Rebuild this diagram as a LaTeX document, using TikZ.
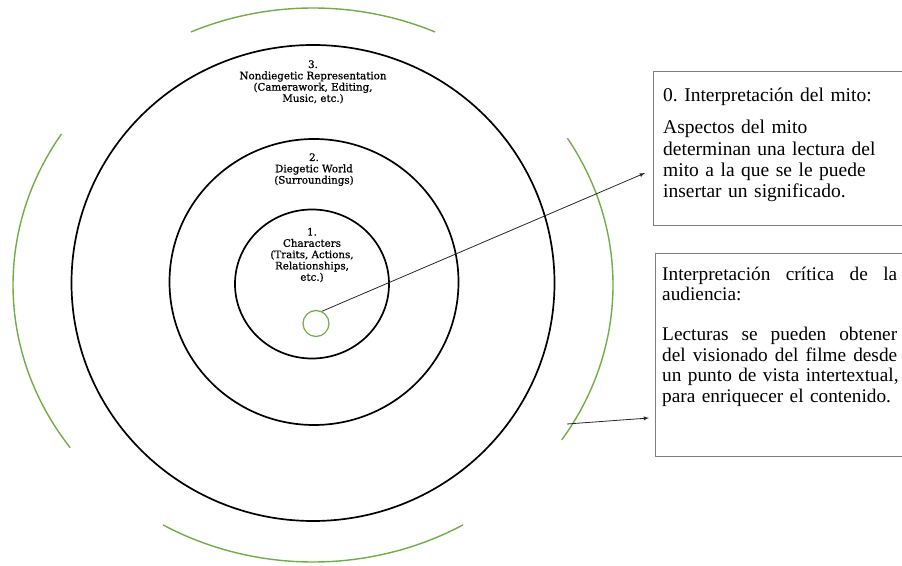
\documentclass[tikz,border=0pt]{standalone}
\usepackage{fontspec}
\setmainfont{Liberation Serif}
\newfontfamily\boxfont{Liberation Serif}
\newfontfamily\ringfont[FakeBold=0.8]{DejaVu Serif}
\usepackage{tikz}
\usetikzlibrary{positioning, shapes.geometric}
\definecolor{arcgreen}{HTML}{70AD47}
\definecolor{panelgray}{HTML}{7F7F7F}
\newcommand{\fullline}[1]{\leavevmode\hbox to 235pt{#1}}
\frenchspacing

\begin{document}
\begin{tikzpicture}[x=1pt, y=1pt,
  ring/.style={draw, ellipse, inner sep=0pt, line width=1.7pt},
  ringlabel/.style={font=\ringfont\fontsize{10.3}{11.3}\selectfont, align=center, inner sep=0pt},
  greenarc/.style={draw=arcgreen, line width=1.4pt},
  panel/.style={draw=panelgray, line width=1.3pt, inner sep=0pt},
  paneltext/.style={font=\boxfont\fontsize{19.5}{21.3}\selectfont, text width=236pt, inner sep=0pt},
  pointer/.style={-latex, line width=0.8pt, black!85}]
  \clip (0,0) rectangle (902,565);

  % the three story levels
  \node[ring, minimum width=483, minimum height=476] (ring3) at (313,282) {};
  \node[ring, minimum width=289, minimum height=286] (ring2) at (314,283) {};
  \node[ring, minimum width=154, minimum height=149] (ring1) at (312,281) {};

  \node[ringlabel, below=16pt of ring3.north] (lab3)
    {3.\\ Nondiegetic Representation\\ (Camerawork, Editing,\\ Music, etc.)};
  \node[ringlabel, below=15pt of ring2.north] (lab2)
    {2.\\ Diegetic World\\ (Surroundings)};
  \node[ringlabel, below=19pt of ring1.north] (lab1)
    {1.\\ Characters\\ (Traits, Actions,\\ Relationships,\\ etc.)};

  % green audience arcs
  \coordinate (g) at (313,280);
  \draw[greenarc] ([shift={(66:300 and 277)}]g) arc[start angle=66, end angle=114, x radius=300, y radius=277];
  \draw[greenarc] ([shift={(147:300 and 277)}]g) arc[start angle=147, end angle=216, x radius=300, y radius=277];
  \draw[greenarc] ([shift={(240:300 and 277)}]g) arc[start angle=240, end angle=300, x radius=300, y radius=277];
  \draw[greenarc] ([shift={(-34:300 and 277)}]g) arc[start angle=-34, end angle=32, x radius=300, y radius=277];

  \node[draw=arcgreen, line width=1.2pt, circle, minimum size=26, inner sep=0pt] (core) at (316,241.5) {};

  % side boxes
  \node[panel, minimum width=260, minimum height=154, anchor=north west] (box1) at (653,494) {};
  \node[panel, minimum width=260, minimum height=203, anchor=north west] (box2) at (655,312) {};

  \node[paneltext, align=left, anchor=north west] (txt1) at (663,477)
    {0. Interpretación del mito:\\[10.7pt]
     Aspectos del mito\\ determinan una lectura del\\ mito a la que se le puede\\ insertar un significado.};
  \node[paneltext, anchor=north west, font=\boxfont\fontsize{19.3}{20.8}\selectfont] (txt2) at (662,298.5)
    {\fullline{Interpretación \hfill crítica \hfill de \hfill la}\\ audiencia:\\[18.5pt]
     \fullline{Lecturas \hfill se \hfill pueden \hfill obtener}\\
     \fullline{del \hfill visionado \hfill del \hfill filme \hfill desde}\\
     \fullline{un punto de vista intertextual,}\\ para enriquecer el contenido.};

  % arrows
  \coordinate (tip1) at (645,392);
  \coordinate (from2) at (567,141);
  \coordinate (tip2) at (649,147);
  \draw[pointer] (core.64) -- (tip1);
  \draw[pointer] (from2) -- (tip2);
\end{tikzpicture}
\end{document}
